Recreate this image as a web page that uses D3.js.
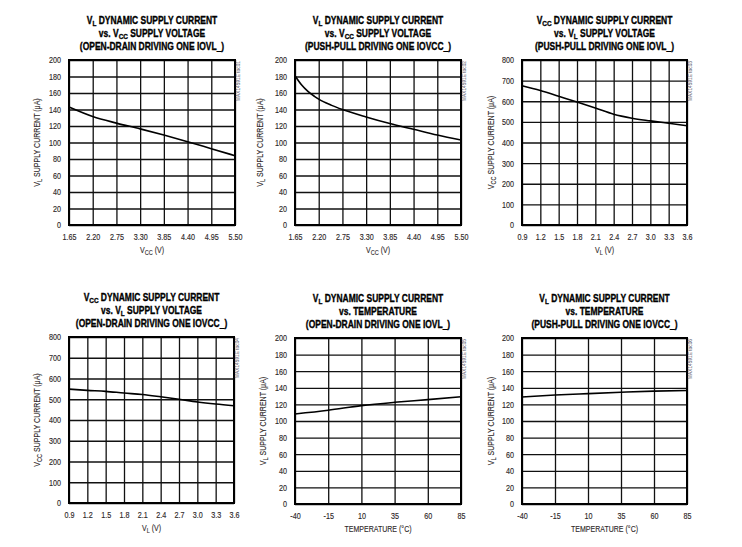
<!DOCTYPE html>
<html><head><meta charset="utf-8">
<script src="https://cdn.jsdelivr.net/npm/d3@7/dist/d3.min.js"></script>
<style>
body{margin:0;background:#fff;}
svg{display:block;}
text{font-family:"Liberation Sans",Arial,sans-serif;}
.tick text{font-size:9px;fill:#2e2828;stroke:#2e2828;stroke-width:0.15;}
.ttl{font-weight:bold;font-size:10.6px;fill:#000;stroke:#000;stroke-width:0.35;}
.lab{font-size:8.8px;fill:#2e2828;stroke:#2e2828;stroke-width:0.12;}
.wm{font-size:4.8px;fill:#556;}
</style></head>
<body>
<svg id="c" width="742" height="547"></svg>
<script>
// ---- data ----
const vccTicks = [1.65, 2.20, 2.75, 3.30, 3.85, 4.40, 4.95, 5.50];
const vlTicks = [0.9, 1.2, 1.5, 1.8, 2.1, 2.4, 2.7, 3.0, 3.3, 3.6];
const tempTicks = [-40, -15, 10, 35, 60, 85];
const y200Ticks = [0, 20, 40, 60, 80, 100, 120, 140, 160, 180, 200];
const y800Ticks = [0, 100, 200, 300, 400, 500, 600, 700, 800];

const p1x = [1.65, 2.20, 2.75, 3.30, 3.85, 4.40, 4.95, 5.50];
const p1y = [143, 131.5, 123.5, 116.5, 109, 101, 92.5, 84];
const p2x = [1.65, 1.80, 1.95, 2.10, 2.20, 2.50, 2.75, 3.30, 3.85, 4.40, 4.95, 5.50];
const p2y = [181, 170, 162, 156, 152.5, 145, 140, 131, 123, 116, 109, 103];
const p3x = [0.9, 1.2, 1.5, 1.8, 2.1, 2.4, 2.7, 3.0, 3.3, 3.6];
const p3y = [675, 652, 624, 596, 567, 537, 518, 505, 493, 481];
const p4x = [0.9, 1.2, 1.5, 1.8, 2.1, 2.4, 2.7, 3.0, 3.3, 3.6];
const p4y = [549, 543, 538, 530, 523, 512, 500, 487, 477, 469];
const p5x = [-40, -15, 10, 35, 60, 85];
const p5y = [108.5, 113, 118.5, 122.5, 125.8, 129.3];
const p6x = [-40, -15, 10, 35, 60, 85];
const p6y = [129, 131.3, 133, 134.6, 136, 136.8];

const titles = [
  [[["V",""],["L","sub"],[" DYNAMIC SUPPLY CURRENT",""]],[["vs. V",""],["CC","sub"],[" SUPPLY VOLTAGE",""]],[["(OPEN-DRAIN DRIVING ONE IOVL_)",""]]],
  [[["V",""],["L","sub"],[" DYNAMIC SUPPLY CURRENT",""]],[["vs. V",""],["CC","sub"],[" SUPPLY VOLTAGE",""]],[["(PUSH-PULL DRIVING ONE IOVCC_)",""]]],
  [[["V",""],["CC","sub"],[" DYNAMIC SUPPLY CURRENT",""]],[["vs. V",""],["L","sub"],[" SUPPLY VOLTAGE",""]],[["(PUSH-PULL DRIVING ONE IOVL_)",""]]],
  [[["V",""],["CC","sub"],[" DYNAMIC SUPPLY CURRENT",""]],[["vs. V",""],["L","sub"],[" SUPPLY VOLTAGE",""]],[["(OPEN-DRAIN DRIVING ONE IOVCC_)",""]]],
  [[["V",""],["L","sub"],[" DYNAMIC SUPPLY CURRENT",""]],[["vs. TEMPERATURE",""]],[["(OPEN-DRAIN DRIVING ONE IOVL_)",""]]],
  [[["V",""],["L","sub"],[" DYNAMIC SUPPLY CURRENT",""]],[["vs. TEMPERATURE",""]],[["(PUSH-PULL DRIVING ONE IOVCC_)",""]]]
];
const yLabVL = [["V",""],["L","sub"],[" SUPPLY CURRENT (\u03bcA)",""]];
const yLabVCC = [["V",""],["CC","sub"],[" SUPPLY CURRENT (\u03bcA)",""]];
const xLabVCC = [["V",""],["CC","sub"],[" (V)",""]];
const xLabVL = [["V",""],["L","sub"],[" (V)",""]];
const xLabT = [["TEMPERATURE (\u00b0C)",""]];

// ---- layout ----
const NARROW = 0.8;   // emulate a condensed face
const panels = [
  {x:p1x,y:p1y,xt:vccTicks,yt:y200Ticks,fmt:d3.format(".2f"),l:69,r:235,t:60,b:225,yl:yLabVL,ylx:37,xl:xLabVCC,ti:titles[0],wm:"MAX14591E toc01"},
  {x:p2x,y:p2y,xt:vccTicks,yt:y200Ticks,fmt:d3.format(".2f"),l:295,r:461,t:60,b:225,yl:yLabVL,ylx:259.5,xl:xLabVCC,ti:titles[1],wm:"MAX14591E toc02"},
  {x:p3x,y:p3y,xt:vlTicks,yt:y800Ticks,fmt:d3.format(".1f"),l:522,r:687,t:60,b:225,yl:yLabVCC,ylx:491,xl:xLabVL,ti:titles[2],wm:"MAX14591E toc03"},
  {x:p4x,y:p4y,xt:vlTicks,yt:y800Ticks,fmt:d3.format(".1f"),l:69,r:234,t:337,b:503,yl:yLabVCC,ylx:37,xl:xLabVL,ti:titles[3],wm:"MAX14591E toc04"},
  {x:p5x,y:p5y,xt:tempTicks,yt:y200Ticks,fmt:d3.format("d"),l:295,r:461,t:338,b:504,yl:yLabVL,ylx:263,xl:xLabT,ti:titles[4],wm:"MAX14591E toc05"},
  {x:p6x,y:p6y,xt:tempTicks,yt:y200Ticks,fmt:d3.format("d"),l:522,r:687,t:338,b:504,yl:yLabVL,ylx:491,xl:xLabT,ti:titles[5],wm:"MAX14591E toc06"}
];

const svg = d3.select("#c");

function rich(sel, parts, subSize){
  parts.forEach(([s,k])=>{
    const ts = sel.append("tspan").text(s);
    if(k==="sub"){ ts.attr("baseline-shift","-25%").attr("font-size",subSize); }
  });
}

panels.forEach(p=>{
  const g = svg.append("g");
  const xs = d3.scaleLinear().domain([p.xt[0], p.xt[p.xt.length-1]]).range([p.l,p.r]);
  const ys = d3.scaleLinear().domain([p.yt[0], p.yt[p.yt.length-1]]).range([p.b,p.t]);
  const fmt = d => p.fmt(d).replace("\u2212","-");

  // grid + ticks
  const gx = g.append("g").attr("transform",`translate(0,${p.b})`)
    .call(d3.axisBottom(xs).tickValues(p.xt).tickFormat(fmt).tickSize(-(p.b-p.t)).tickPadding(8.3));
  gx.select(".domain").remove();
  gx.selectAll(".tick text").attr("font-family",null).attr("font-size",null)
    .attr("transform",`scale(${NARROW},1)`);
  const gy = g.append("g").attr("transform",`translate(${p.l},0)`)
    .call(d3.axisLeft(ys).tickValues(p.yt).tickSize(-(p.r-p.l)));
  gy.select(".domain").remove();
  gy.selectAll(".tick text").attr("font-family",null).attr("font-size",null)
    .attr("x",-8/NARROW).attr("transform",`scale(${NARROW},1)`);
  g.selectAll(".tick line").attr("stroke","#111").attr("stroke-width",1.3);

  g.append("rect").attr("x",p.l).attr("y",p.t).attr("width",p.r-p.l).attr("height",p.b-p.t)
    .attr("fill","none").attr("stroke","#000").attr("stroke-width",2);

  // curve
  const line = d3.line().x((d,i)=>xs(p.x[i])).y((d,i)=>ys(p.y[i])).curve(d3.curveMonotoneX);
  g.append("path").datum(p.y).attr("d",line).attr("fill","none").attr("stroke","#000").attr("stroke-width",1.6);

  // titles
  const cx = (p.l+p.r)/2;
  p.ti.forEach((ln,i)=>{
    const t = g.append("g").attr("transform",`translate(${cx},${p.t-36+i*12.8}) scale(${NARROW},1)`)
      .append("text").attr("class","ttl").attr("text-anchor","middle");
    rich(t, ln, "8px");
  });
  // x label
  const xl = g.append("g").attr("transform",`translate(${cx},${p.b+28}) scale(${NARROW},1)`)
    .append("text").attr("class","lab").attr("text-anchor","middle");
  rich(xl, p.xl, "7px");
  // y label
  const yl = g.append("g").attr("transform",`translate(${p.ylx+3},${(p.t+p.b)/2}) rotate(-90) scale(${NARROW},1)`)
    .append("text").attr("class","lab").attr("text-anchor","middle");
  rich(yl, p.yl, "7px");
  // watermark
  g.append("text").attr("class","wm").attr("text-anchor","end")
    .attr("transform",`translate(${p.r+4.5},${p.t+1}) rotate(-90)`).text(p.wm);
});
</script>
</body></html>
